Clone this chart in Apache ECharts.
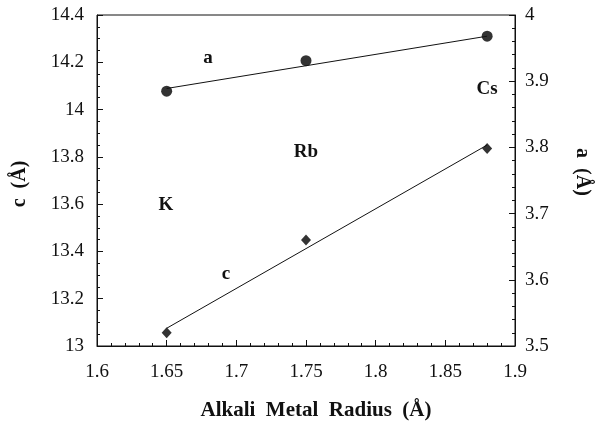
<!DOCTYPE html>
<html><head><meta charset="utf-8">
<script src="https://cdn.jsdelivr.net/npm/echarts@6/dist/echarts.min.js"></script>
<style>html,body{margin:0;padding:0;background:#fff}#c{width:599px;height:426px}</style>
</head><body><div id="c"></div>
<script>
// Data
const radius = [1.65, 1.75, 1.88];
const aValues = [3.885, 3.931, 3.968];
const cValues = [13.056, 13.448, 13.835];
const aFitX = [1.65, 1.88];
const aFitY = [3.889, 3.968];
const cFitX = [1.65, 1.88];
const cFitY = [13.075, 13.850];
const elementLabels = ['K', 'Rb', 'Cs'];

const serif = 'Liberation Serif';
const serifCss = '"Liberation Serif", serif';
const ink = '#111';
const chart = echarts.init(document.getElementById('c'));
const zip = (xs, ys) => xs.map((x, i) => [x, ys[i]]);
const fmt = v => String(parseFloat(v.toFixed(2)));

const labelStyle = {fontFamily: serif, fontSize: 19, fontWeight: 'normal', color: ink, formatter: fmt};
const axisCommon = {
  axisLine: {show: true, lineStyle: {color: ink, width: 1}},
  axisTick: {show: true, inside: true, length: 6, lineStyle: {color: ink}},
  splitLine: {show: false}
};

chart.setOption({
  animation: false,
  textStyle: {fontFamily: serif},
  grid: {left: 97, right: 84, top: 15, bottom: 80, show: true, borderColor: ink, borderWidth: 1, backgroundColor: 'transparent'},
  xAxis: Object.assign({}, axisCommon, {
    type: 'value', min: 1.6, max: 1.9, interval: 0.05,
    minorTick: {show: true, splitNumber: 5, length: 3, lineStyle: {color: ink}},
    axisLabel: Object.assign({}, labelStyle, {margin: 17})
  }),
  yAxis: [
    Object.assign({}, axisCommon, {
      type: 'value', min: 13, max: 14.4, interval: 0.2, position: 'left',
      minorTick: {show: true, splitNumber: 4, length: 3, lineStyle: {color: ink}},
      axisLabel: Object.assign({}, labelStyle, {margin: 13})
    }),
    Object.assign({}, axisCommon, {
      type: 'value', min: 3.5, max: 4, interval: 0.1, position: 'right',
      minorTick: {show: true, splitNumber: 5, length: 3, lineStyle: {color: ink}},
      axisLabel: Object.assign({}, labelStyle, {margin: 10})
    })
  ],
  series: [
    {type: 'line', yAxisIndex: 1, data: zip(aFitX, aFitY), showSymbol: false, lineStyle: {color: ink, width: 1}},
    {type: 'scatter', yAxisIndex: 1, data: zip(radius, aValues), symbol: 'circle', symbolSize: 11, itemStyle: {color: '#000'}},
    {type: 'line', yAxisIndex: 0, data: zip(cFitX, cFitY), showSymbol: false, lineStyle: {color: ink, width: 1}},
    {type: 'scatter', yAxisIndex: 0, data: zip(radius, cValues), symbol: 'diamond', symbolSize: [10, 11], itemStyle: {color: '#000'}}
  ],
  graphic: [
    {type: 'text', x: 208, y: 58, style: {text: 'a', font: 'bold 19px ' + serifCss, fill: ink, align: 'center', verticalAlign: 'middle'}},
    {type: 'text', x: 226, y: 274, style: {text: 'c', font: 'bold 19px ' + serifCss, fill: ink, align: 'center', verticalAlign: 'middle'}},
    {type: 'text', x: 166, y: 205, style: {text: elementLabels[0], font: 'bold 19px ' + serifCss, fill: ink, align: 'center', verticalAlign: 'middle'}},
    {type: 'text', x: 306, y: 152, style: {text: elementLabels[1], font: 'bold 19px ' + serifCss, fill: ink, align: 'center', verticalAlign: 'middle'}},
    {type: 'text', x: 487, y: 89, style: {text: elementLabels[2], font: 'bold 19px ' + serifCss, fill: ink, align: 'center', verticalAlign: 'middle'}},
    {type: 'text', x: 316, y: 411, style: {text: 'Alkali  Metal  Radius  (Å)', font: 'bold 21px ' + serifCss, fill: ink, align: 'center', verticalAlign: 'middle'}},
    {type: 'text', x: 20, y: 184, rotation: Math.PI / 2, style: {text: 'c  (Å)', font: 'bold 20px ' + serifCss, fill: ink, align: 'center', verticalAlign: 'middle'}},
    {type: 'text', x: 582, y: 172, rotation: -Math.PI / 2, style: {text: 'a  (Å)', font: 'bold 20px ' + serifCss, fill: ink, align: 'center', verticalAlign: 'middle'}}
  ]
});
</script></body></html>
